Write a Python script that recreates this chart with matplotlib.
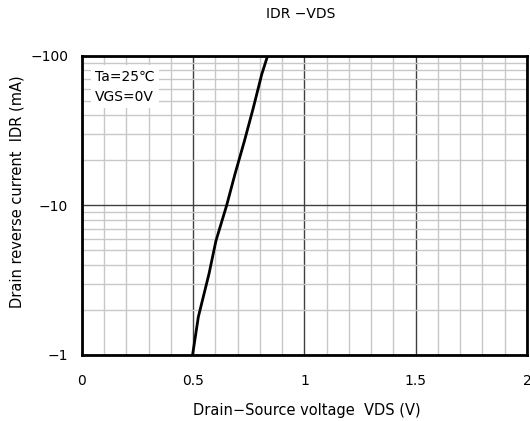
import numpy as np
import matplotlib
matplotlib.use("Agg")
import matplotlib.pyplot as plt
from matplotlib.ticker import FixedLocator, FixedFormatter, NullFormatter

# Data
vds = [0.497, 0.523, 0.571, 0.602, 0.650, 0.688, 0.730, 0.770, 0.808, 0.834]   # V
idr = [-1.0, -1.8, -3.5, -5.8, -10.0, -16.3, -27.0, -45.0, -75.5, -100.0]       # mA

x_ticks = [0, 0.5, 1, 1.5, 2]
x_labels = ["0", "0.5", "1", "1.5", "2"]
y_ticks = [1, 10, 100]
y_labels = ["\u22121", "\u221210", "\u2212100"]

plt.rcParams['font.family'] = ['DejaVu Sans', 'Noto Sans CJK JP']

fig = plt.figure(figsize=(5.3, 4.21), dpi=100)
ax = fig.add_axes([0.1547, 0.1568, 0.8396, 0.7102])

ax.set_yscale('log')
ax.set_xlim(0, 2)
ax.set_ylim(1, 100)

# Grid
ax.xaxis.set_major_locator(FixedLocator(x_ticks))
ax.xaxis.set_major_formatter(FixedFormatter(x_labels))
ax.xaxis.set_minor_locator(FixedLocator(np.arange(0.1, 2.0, 0.1)))
ax.yaxis.set_major_locator(FixedLocator(y_ticks))
ax.yaxis.set_major_formatter(FixedFormatter(y_labels))
ax.yaxis.set_minor_locator(FixedLocator([m * d for d in (1, 10) for m in range(2, 10)]))
ax.yaxis.set_minor_formatter(NullFormatter())

ax.grid(which='minor', color='#c8c8c8', linewidth=1.0)
ax.grid(which='major', color='#404040', linewidth=1.0)
ax.set_axisbelow(True)
ax.tick_params(which='both', length=0, labelsize=10, colors='black')
ax.tick_params(axis='x', pad=14)
ax.tick_params(axis='y', pad=10)

for s in ax.spines.values():
    s.set_linewidth(2.0)
    s.set_color('black')

ax.plot(vds, np.abs(idr), color='black', linewidth=2.0, zorder=3)

ax.text(0.03, 0.955, "Ta=25\u2103\nVGS=0V", transform=ax.transAxes, fontsize=10,
        va='top', ha='left', linespacing=1.6,
        bbox=dict(facecolor='white', edgecolor='none', pad=3), zorder=4)

fig.text(301 / 530, 1 - 14 / 421, "IDR \u2212VDS", ha='center', va='center', fontsize=10)
ax.set_xlabel("Drain\u2212Source voltage  VDS (V)", fontsize=10.5)
ax.set_ylabel("Drain reverse current  IDR (mA)", fontsize=10.5)
ax.xaxis.set_label_coords((307 - 82) / 445, -(411 - 355) / 299)
ax.yaxis.set_label_coords(-(82 - 17) / 445, (355 - 191.5) / 299)
ax.xaxis.label.set_va('center')
ax.yaxis.label.set_va('center')

fig.savefig("out.png", dpi=100)
